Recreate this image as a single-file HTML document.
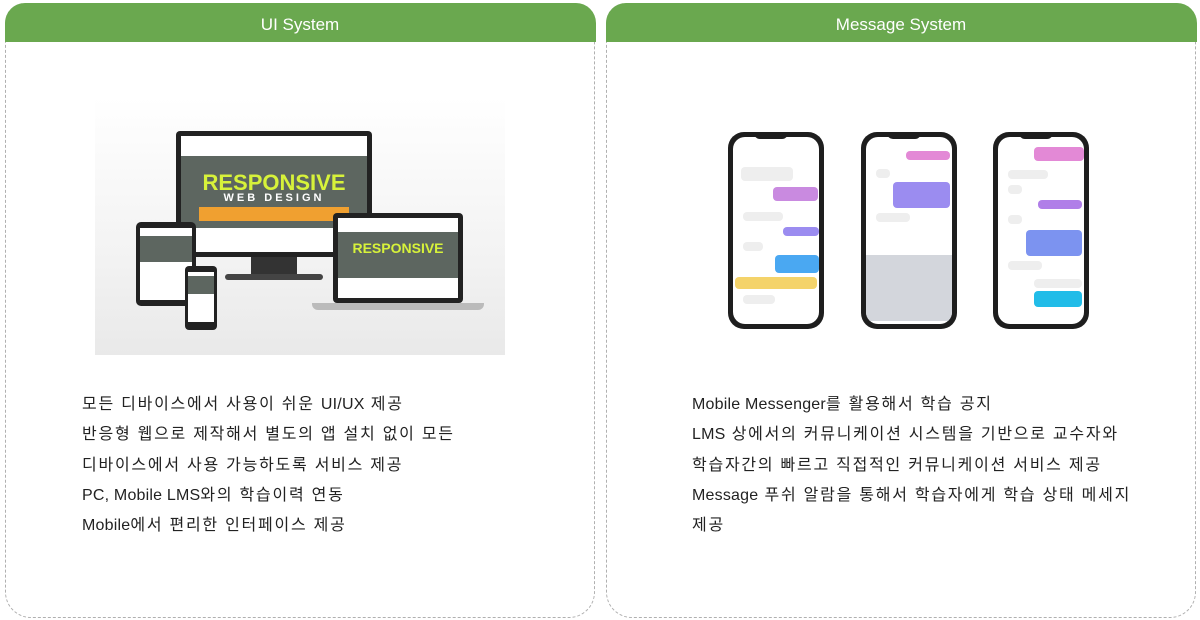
<!DOCTYPE html>
<html><head><meta charset="utf-8"><style>
*{margin:0;padding:0;box-sizing:border-box}
body{width:1200px;height:620px;background:#fff;position:relative;overflow:hidden;font-family:"Liberation Sans","Noto Sans CJK KR",sans-serif}
.panel{position:absolute;top:3px;width:590px;height:615px;border:1.5px dashed #b0b0b0;border-radius:20px 20px 26px 26px;border-top:none}
.hd{position:absolute;left:-1.5px;right:-1.5px;top:0;height:39px;background:#6aa84f;border-radius:20px 20px 0 0;color:#fff;font-size:17px;text-align:center;line-height:44px}
.txt{position:absolute;font-size:16px;color:#222;line-height:30.3px;letter-spacing:1.75px}
.txt i{font-style:normal;letter-spacing:0.2px}
.a{position:absolute}
.phone{position:absolute;width:96px;height:197px;background:#1e1e1e;border-radius:16px;top:132px}
.scr{position:absolute;left:5px;top:5px;right:5px;bottom:5px;background:#fff;border-radius:12px;overflow:hidden}
.notch{position:absolute;left:26px;top:0;width:34px;height:7px;background:#1e1e1e;border-radius:0 0 6px 6px}
.b{position:absolute;height:9px;border-radius:4px}
</style></head><body>
<div class="panel" style="left:5px">
 <div class="hd">UI System</div>
</div>
<div class="panel" style="left:606px">
 <div class="hd">Message System</div>
</div>

<div class="a" style="left:95px;top:97px;width:410px;height:258px;background:linear-gradient(#fff,#f3f3f3 60%,#e9e9e9)"></div>
<div class="a" style="left:176px;top:131px;width:196px;height:126px;background:#222;border-radius:4px"></div>
<div class="a" style="left:181px;top:136px;width:186px;height:116px;background:#fff"></div>
<div class="a" style="left:181px;top:156px;width:186px;height:72px;background:#5d6660"></div>
<div class="a" style="left:181px;top:170px;width:186px;text-align:center;color:#d7f23a;font-weight:bold;font-size:22px">RESPONSIVE</div>
<div class="a" style="left:181px;top:192px;width:186px;text-align:center;color:#fff;font-weight:bold;font-size:11px;letter-spacing:3px">WEB DESIGN</div>
<div class="a" style="left:199px;top:207px;width:150px;height:14px;background:#f0a030"></div>
<div class="a" style="left:251px;top:257px;width:46px;height:18px;background:#333"></div>
<div class="a" style="left:225px;top:274px;width:98px;height:6px;background:#444;border-radius:3px"></div>
<div class="a" style="left:333px;top:213px;width:130px;height:90px;background:#222;border-radius:4px"></div>
<div class="a" style="left:338px;top:218px;width:120px;height:80px;background:#fff"></div>
<div class="a" style="left:338px;top:232px;width:120px;height:46px;background:#5d6660"></div>
<div class="a" style="left:338px;top:240px;width:120px;text-align:center;color:#d7f23a;font-weight:bold;font-size:14px">RESPONSIVE</div>
<div class="a" style="left:312px;top:303px;width:172px;height:7px;background:#bbb;border-radius:0 0 6px 6px"></div>
<div class="a" style="left:136px;top:222px;width:60px;height:84px;background:#222;border-radius:5px"></div>
<div class="a" style="left:140px;top:228px;width:52px;height:72px;background:#fff"></div>
<div class="a" style="left:140px;top:236px;width:52px;height:26px;background:#5d6660"></div>
<div class="a" style="left:185px;top:266px;width:32px;height:64px;background:#222;border-radius:4px"></div>
<div class="a" style="left:188px;top:272px;width:26px;height:50px;background:#fff"></div>
<div class="a" style="left:188px;top:276px;width:26px;height:18px;background:#5d6660"></div>

<div class="phone" style="left:728px"><div class="scr">
 <div class="b" style="left:8px;top:30px;width:52px;height:14px;background:#eee"></div>
 <div class="b" style="left:40px;top:50px;width:45px;height:14px;background:#c98ae0"></div>
 <div class="b" style="left:10px;top:75px;width:40px;background:#eee"></div>
 <div class="b" style="left:50px;top:90px;width:36px;background:#9b8cf0"></div>
 <div class="b" style="left:10px;top:105px;width:20px;background:#eee"></div>
 <div class="b" style="left:42px;top:118px;width:44px;height:18px;background:#4aa8f2"></div>
 <div class="b" style="left:2px;top:140px;width:82px;height:12px;background:#f4d36a"></div>
 <div class="b" style="left:10px;top:158px;width:32px;background:#eee"></div>
</div><div class="notch"></div></div>
<div class="phone" style="left:861px"><div class="scr">
 <div class="b" style="left:40px;top:14px;width:44px;background:#e389d6"></div>
 <div class="b" style="left:10px;top:32px;width:14px;background:#eee"></div>
 <div class="b" style="left:27px;top:45px;width:57px;height:26px;background:#9b8cf0"></div>
 <div class="b" style="left:10px;top:76px;width:34px;background:#eee"></div>
 <div class="a" style="left:0;top:118px;width:86px;height:66px;background:#d3d6dc"></div>
</div><div class="notch"></div></div>
<div class="phone" style="left:993px"><div class="scr">
 <div class="b" style="left:36px;top:10px;width:50px;height:14px;background:#e389d6"></div>
 <div class="b" style="left:10px;top:33px;width:40px;background:#eee"></div>
 <div class="b" style="left:10px;top:48px;width:14px;background:#eee"></div>
 <div class="b" style="left:40px;top:63px;width:44px;background:#b07ee8"></div>
 <div class="b" style="left:10px;top:78px;width:14px;background:#eee"></div>
 <div class="b" style="left:28px;top:93px;width:56px;height:26px;background:#7c93f0"></div>
 <div class="b" style="left:10px;top:124px;width:34px;background:#eee"></div>
 <div class="b" style="left:36px;top:142px;width:48px;background:#eee"></div>
 <div class="b" style="left:36px;top:154px;width:48px;height:16px;background:#21bce8"></div>
</div><div class="notch"></div></div>

<div class="txt" style="left:82px;top:390px">모든 디바이스에서 사용이 쉬운 <i>UI/UX</i> 제공<br>반응형 웹으로 제작해서 별도의 앱 설치 없이 모든<br>디바이스에서 사용 가능하도록 서비스 제공<br><i>PC, Mobile LMS</i>와의 학습이력 연동<br><i>Mobile</i>에서 편리한 인터페이스 제공</div>
<div class="txt" style="left:692px;top:390px"><i>Mobile Messenger</i>를 활용해서 학습 공지<br><i>LMS</i> 상에서의 커뮤니케이션 시스템을 기반으로 교수자와<br>학습자간의 빠르고 직접적인 커뮤니케이션 서비스 제공<br><i>Message</i> 푸쉬 알람을 통해서 학습자에게 학습 상태 메세지<br>제공</div>
</body></html>
